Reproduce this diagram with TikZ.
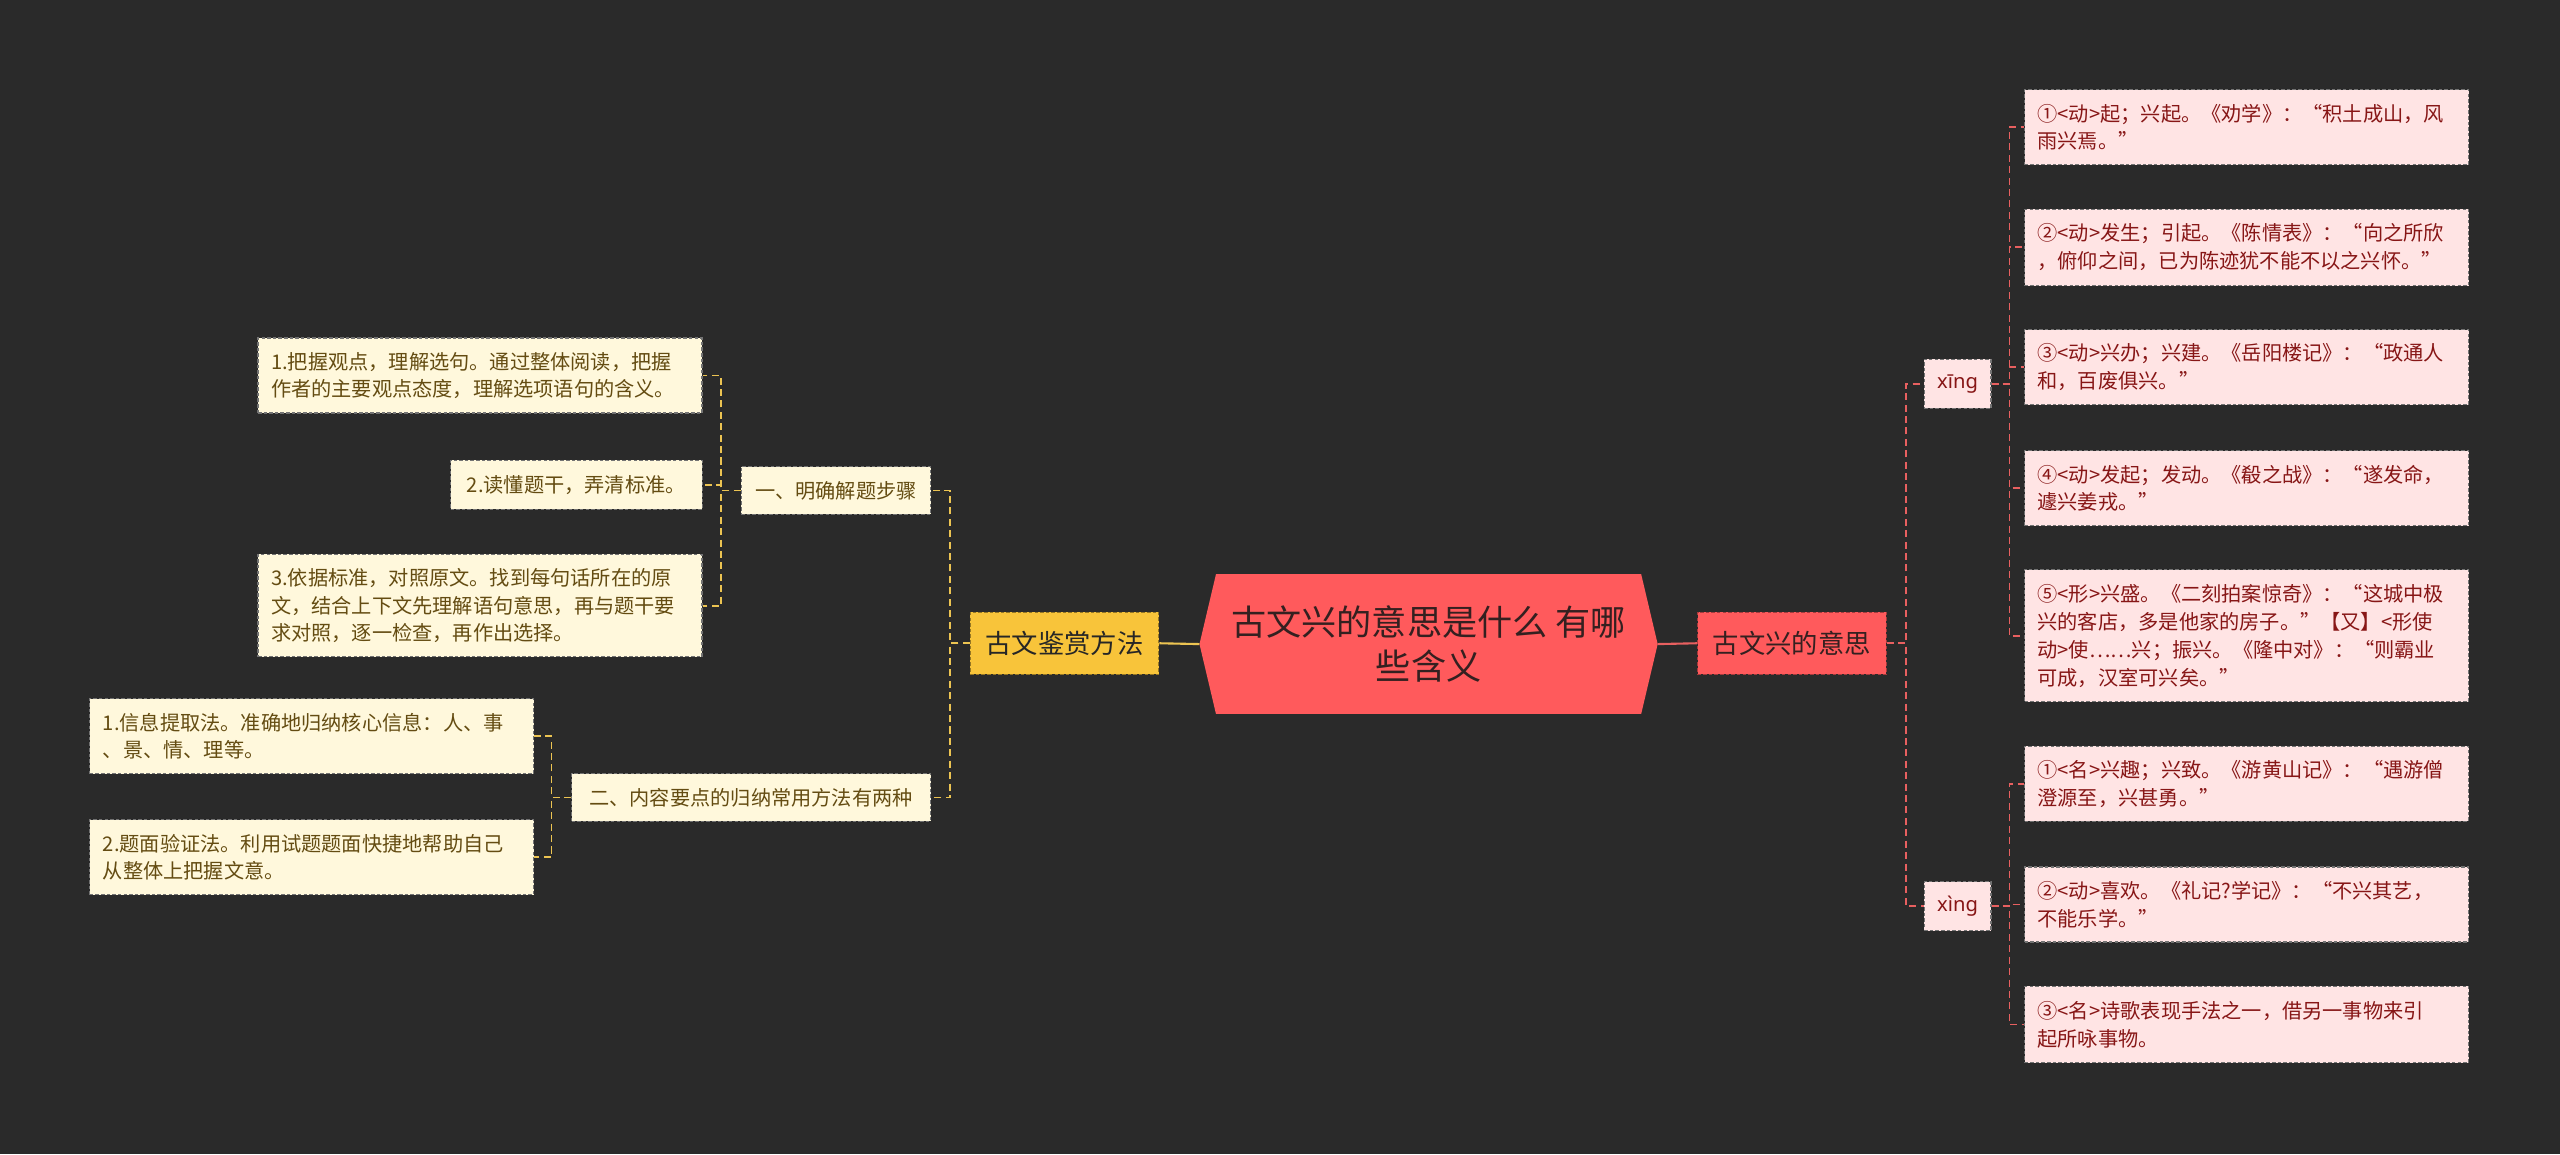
\documentclass[tikz,border=0pt]{standalone}
\usepackage{fontspec}
\setmainfont{Noto Sans CJK SC}
\newfontfamily\pinyinfont{Noto Sans}
\usepackage{tikz}
\usetikzlibrary{positioning,backgrounds}
\definecolor{bgdark}{RGB}{42,42,42}
\definecolor{rootred}{RGB}{255,90,92}
\definecolor{roottext}{RGB}{52,32,32}
\definecolor{methodyel}{RGB}{248,196,58}
\definecolor{creamfill}{RGB}{255,248,220}
\definecolor{creamtext}{RGB}{100,76,18}
\definecolor{pinkfill}{RGB}{255,228,228}
\definecolor{pinktext}{RGB}{135,22,22}
\definecolor{yellink}{RGB}{236,196,82}
\definecolor{redlink}{RGB}{232,96,96}

\begin{document}
\begin{tikzpicture}[x=0.032653cm,y=-0.032653cm,
  box/.style={dash pattern=on 2pt off 1.2pt,line width=0.6pt,inner xsep=0.26cm,inner ysep=0pt},
  cream/.style={box,draw=black!55,fill=creamfill,text=creamtext,font=\fontsize{11.5}{15.8}\selectfont},
  pink/.style={box,draw=black!55,fill=pinkfill,text=pinktext,font=\fontsize{11.5}{15.8}\selectfont},
  leaf/.style={minimum width=8.88cm,text width=8.36cm,align=left},
  topic/.style={box,font=\fontsize{15}{18}\selectfont,minimum width=3.77cm,minimum height=1.24cm},
  ylink/.style={yellink,line width=1pt,dash pattern=on 4pt off 2.5pt},
  rlink/.style={redlink,line width=1pt,dash pattern=on 4pt off 2.5pt}]
\begin{scope}[on background layer]
\fill[bgdark] (0,0) rectangle (1568,707);
\end{scope}
\useasboundingbox (0,0) rectangle (1568,707);

\node[text=roottext,align=center,minimum width=8.49cm,minimum height=2.78cm,font=\fontsize{20}{25}\selectfont] (root) at (875,394.5) {古文兴的意思是什么 有哪\\些含义};
\begin{scope}[on background layer]
\fill[rootred] (root.north west) -- (root.north east) -- ([xshift=0.33cm]root.east) -- (root.south east) -- (root.south west) -- ([xshift=-0.33cm]root.west) -- cycle;
\end{scope}

\node[topic,draw=methodyel!60!black,fill=methodyel,text=black!85] (method) at (652,394) {古文鉴赏方法};
\node[topic,draw=rootred!65!black,fill=rootred,text=roottext] (meaning) at (1097.5,394) {古文兴的意思};

\node[cream,minimum width=3.79cm,minimum height=0.95cm] (stepone) at (512,300.5) {一、明确解题步骤};
\node[cream,minimum width=7.18cm,minimum height=0.95cm] (steptwo) at (460,488.5) {二、内容要点的归纳常用方法有两种};
\node[cream,leaf,minimum height=1.50cm] (la) at (294,230) {1.把握观点，理解选句。通过整体阅读，把握\\作者的主要观点态度，理解选项语句的含义。};
\node[cream,minimum width=5.03cm,minimum height=0.98cm] (lb) at (353,297) {2.读懂题干，弄清标准。};
\node[cream,leaf,minimum height=2.05cm] (lc) at (294,371) {3.依据标准，对照原文。找到每句话所在的原\\文，结合上下文先理解语句意思，再与题干要\\求对照，逐一检查，再作出选择。};
\node[cream,leaf,minimum height=1.50cm] (ld) at (191,451) {1.信息提取法。准确地归纳核心信息：人、事\\、景、情、理等。};
\node[cream,leaf,minimum height=1.50cm] (le) at (191,525) {2.题面验证法。利用试题题面快捷地帮助自己\\从整体上把握文意。};

\node[pink,minimum width=1.24cm,minimum height=0.98cm,font=\pinyinfont\fontsize{11.5}{14}\selectfont] (xa) at (1199,235) {xīng};
\node[pink,minimum width=1.24cm,minimum height=0.98cm,font=\pinyinfont\fontsize{11.5}{14}\selectfont] (xb) at (1199,555) {xìng};
\node[pink,leaf,minimum height=1.50cm] (ra) at (1376,78) {①<动>起；兴起。《劝学》：“积土成山，风\\雨兴焉。”};
\node[pink,leaf,minimum height=1.53cm] (rb) at (1376,151.5) {②<动>发生；引起。《陈情表》：“向之所欣\\，俯仰之间，已为陈迹犹不能不以之兴怀。”};
\node[pink,leaf,minimum height=1.50cm] (rc) at (1376,225) {③<动>兴办；兴建。《岳阳楼记》：“政通人\\和，百废俱兴。”};
\node[pink,leaf,minimum height=1.50cm] (rd) at (1376,299) {④<动>发起；发动。《殽之战》：“遂发命，\\遽兴姜戎。”};
\node[pink,leaf,minimum height=2.64cm] (re) at (1376,389.5) {⑤<形>兴盛。《二刻拍案惊奇》：“这城中极\\兴的客店，多是他家的房子。”【又】<形使\\动>使……兴；振兴。《隆中对》：“则霸业\\可成，汉室可兴矣。”};
\node[pink,leaf,minimum height=1.50cm] (rf) at (1376,480) {①<名>兴趣；兴致。《游黄山记》：“遇游僧\\澄源至，兴甚勇。”};
\node[pink,leaf,minimum height=1.50cm] (rg) at (1376,554) {②<动>喜欢。《礼记?学记》：“不兴其艺，\\不能乐学。”};
\node[pink,leaf,minimum height=1.53cm] (rh) at (1376,627.5) {③<名>诗歌表现手法之一，借另一事物来引\\起所咏事物。};

\draw[yellink,line width=1.2pt] ([xshift=-0.33cm]root.west) -- (method.east);
\foreach \n in {stepone,steptwo} \draw[ylink] (method.west) -- ++(-12,0) |- (\n.east);
\foreach \n in {la,lb,lc} \draw[ylink] (stepone.west) -- ++(-12,0) |- (\n.east);
\foreach \n in {ld,le} \draw[ylink] (steptwo.west) -- ++(-12,0) |- (\n.east);

\draw[redlink,line width=1.2pt] ([xshift=0.33cm]root.east) -- (meaning.west);
\foreach \n in {xa,xb} \draw[rlink] (meaning.east) -- ++(12,0) |- (\n.west);
\foreach \n in {ra,rb,rc,rd,re} \draw[rlink] (xa.east) -- ++(11,0) |- (\n.west);
\foreach \n in {rf,rg,rh} \draw[rlink] (xb.east) -- ++(11,0) |- (\n.west);
\end{tikzpicture}
\end{document}
